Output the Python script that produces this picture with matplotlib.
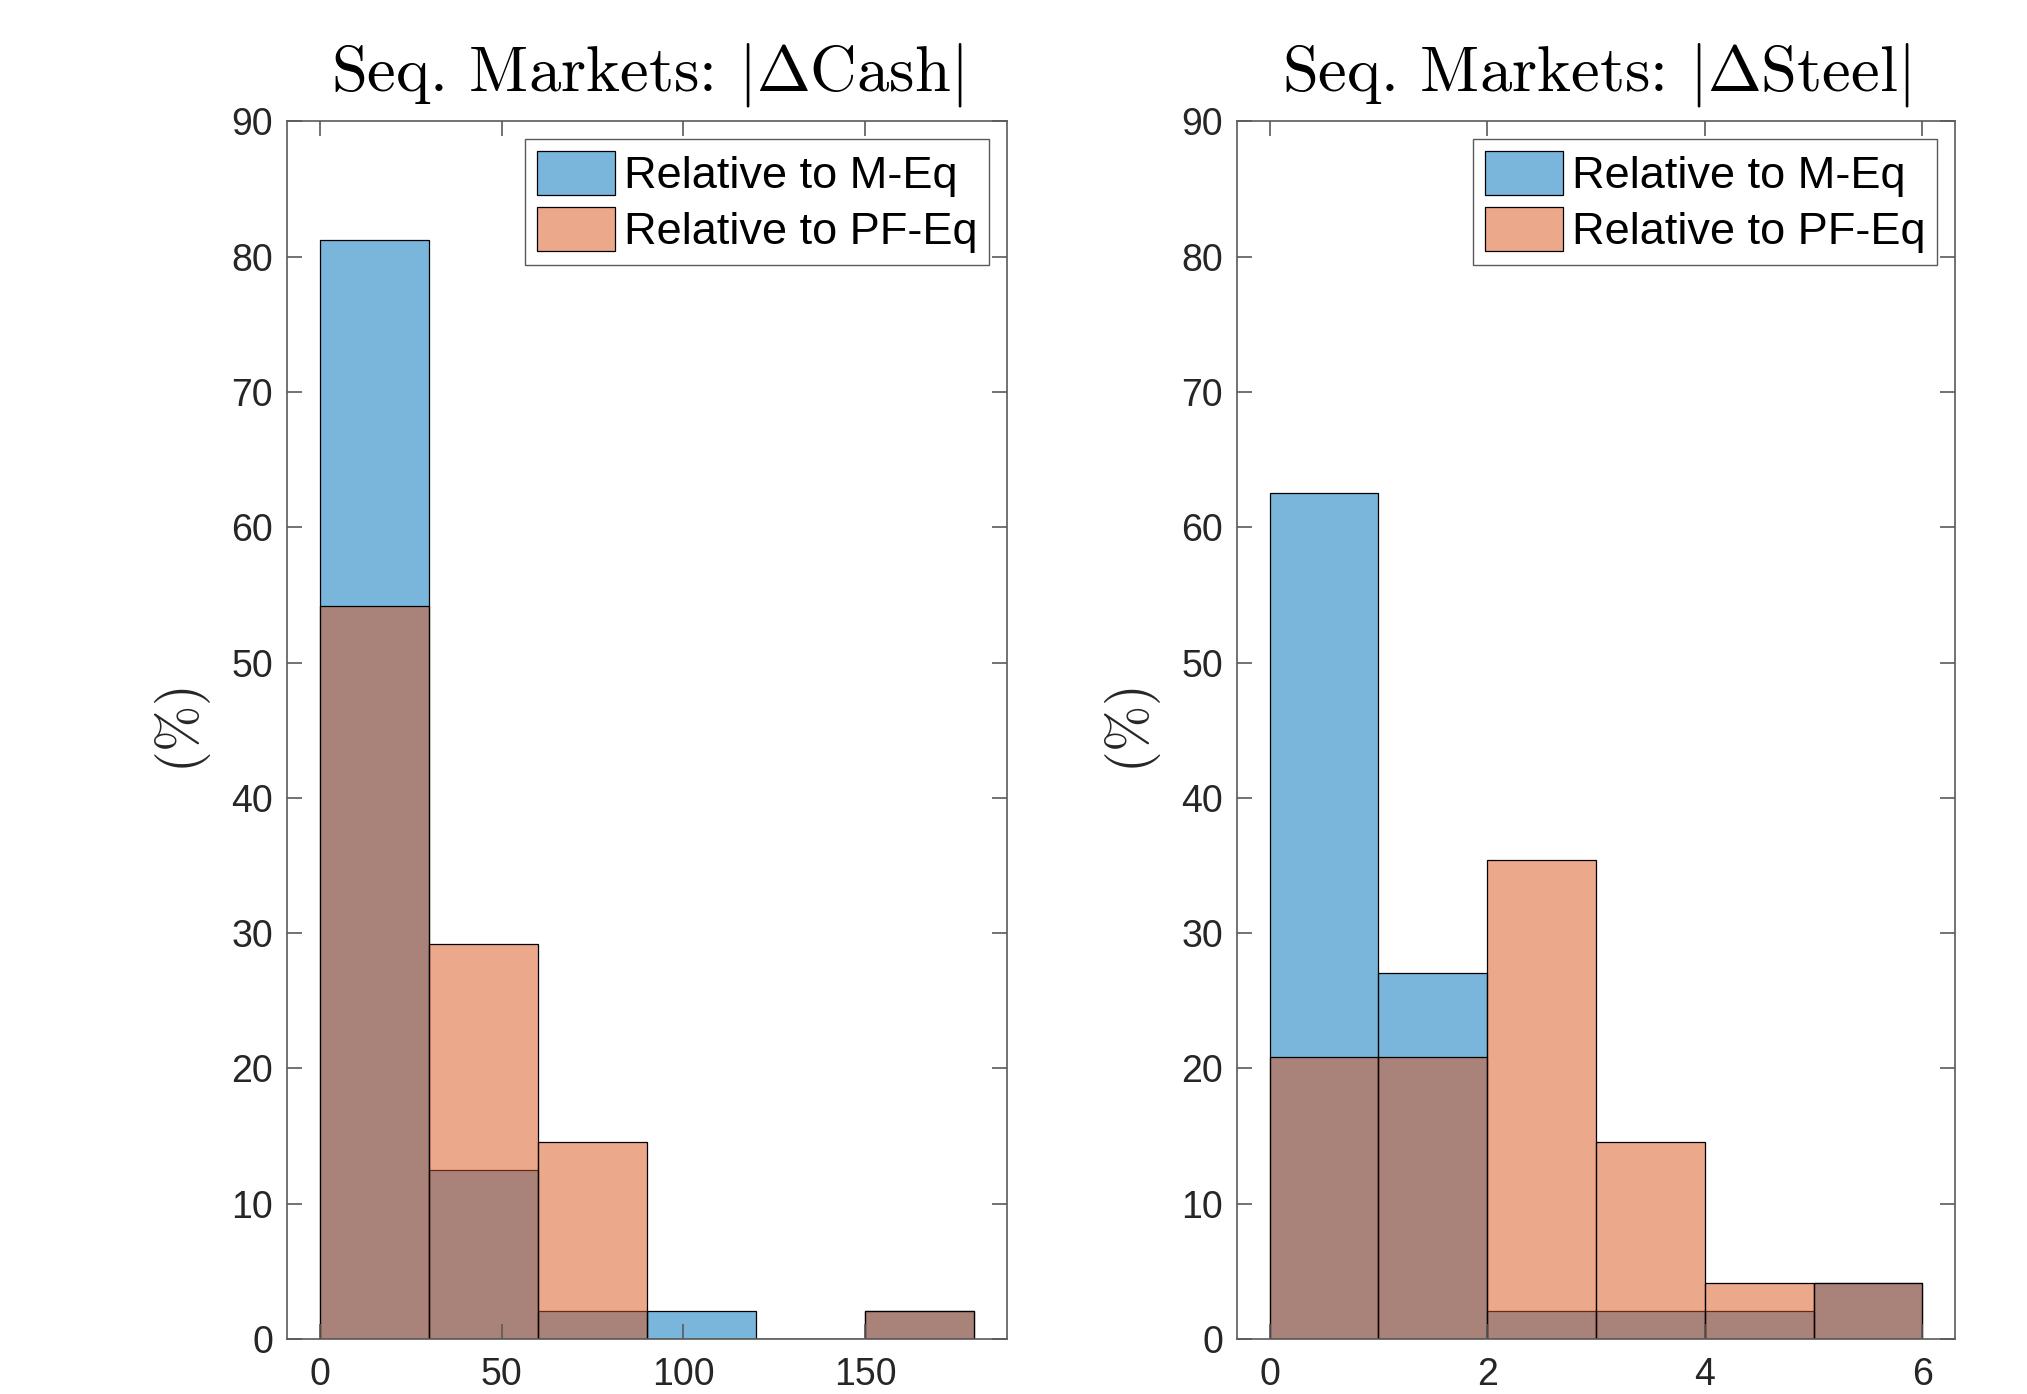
import numpy as np
import matplotlib.pyplot as plt
from matplotlib.patches import Patch

plt.rcParams['mathtext.fontset'] = 'cm'

# histogram bins and shares (%) for each market
cash_edges = [0, 30, 60, 90, 120, 150, 180]
cash_meq = [81.25, 12.5, 2.083, 2.083, 0.0, 2.083]
cash_pfeq = [54.17, 29.17, 14.58, 0.0, 0.0, 2.083]

steel_edges = [0, 1, 2, 3, 4, 5, 6]
steel_meq = [62.5, 27.08, 2.083, 2.083, 2.083, 4.167]
steel_pfeq = [20.83, 20.83, 35.42, 14.58, 4.167, 4.167]

series_names = ['Relative to M-Eq', 'Relative to PF-Eq']
titles = [r'Seq. Markets: $|\Delta$Cash$|$',
          r'Seq. Markets: $|\Delta$Steel$|$']
cash_ticks = [0, 50, 100, 150]
steel_ticks = [0, 2, 4, 6]
y_ticks = [0, 10, 20, 30, 40, 50, 60, 70, 80, 90]

blue = (0.0, 0.447, 0.741, 0.52)
orange = (0.85, 0.325, 0.098, 0.5)
axcol = '#5a5a5a'
txtcol = '#262626'

fig = plt.figure(figsize=(20.27, 13.94), dpi=100)
ax1 = fig.add_axes([0.1416, 0.0395, 0.3552, 0.8734])
ax2 = fig.add_axes([0.6103, 0.0395, 0.3542, 0.8734])


def draw_hist(ax, edges, meq, pfeq, xticks, title):
    edges = np.asarray(edges, dtype=float)
    widths = np.diff(edges)
    ax.bar(edges[:-1], meq, width=widths, align='edge', color=blue,
           edgecolor='black', linewidth=0.9)
    ax.bar(edges[:-1], pfeq, width=widths, align='edge', color=orange,
           edgecolor='black', linewidth=0.9)
    pad = 0.05 * (edges[-1] - edges[0])
    ax.set_xlim(edges[0] - pad, edges[-1] + pad)
    ax.set_ylim(0, 90)
    ax.set_xticks(xticks)
    ax.set_yticks(y_ticks)
    ax.tick_params(direction='in', length=11, width=1.2, color=axcol,
                   top=True, right=True, labelsize=27, labelcolor=txtcol)
    ax.tick_params(axis='x', pad=13)
    ax.tick_params(axis='y', pad=10)
    for lab in ax.get_xticklabels() + ax.get_yticklabels():
        lab.set_family('Liberation Sans')
    for sp in ax.spines.values():
        sp.set_color(axcol)
        sp.set_linewidth(1.2)
    ax.set_title(title, fontsize=46.5, pad=22, family='cmr10')
    ax.set_ylabel(r'$(\%)$', fontsize=40, color=txtcol, labelpad=13)
    handles = [Patch(facecolor=blue, edgecolor='black', linewidth=0.9),
               Patch(facecolor=orange, edgecolor='black', linewidth=0.9)]
    leg = ax.legend(handles, series_names, loc='upper right',
                    prop={'family': 'Liberation Sans', 'size': 32.5},
                    handlelength=1.74, handleheight=1.12, handletextpad=0.2,
                    borderpad=0.25, labelspacing=0.22, borderaxespad=0.4,
                    fancybox=False, framealpha=1)
    leg.get_frame().set_edgecolor(axcol)
    leg.get_frame().set_linewidth(1.0)


draw_hist(ax1, cash_edges, cash_meq, cash_pfeq, cash_ticks, titles[0])
draw_hist(ax2, steel_edges, steel_meq, steel_pfeq, steel_ticks, titles[1])

fig.savefig('out.png', dpi=100)
